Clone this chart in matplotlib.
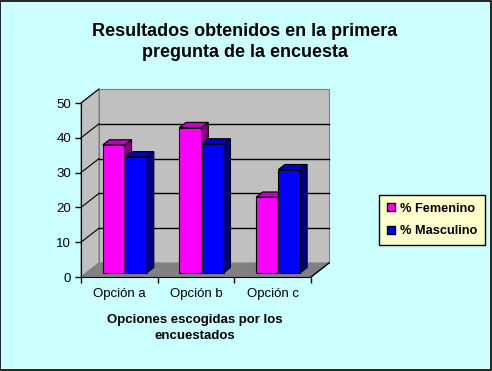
import matplotlib.pyplot as plt
from matplotlib.patches import Polygon, Patch, Rectangle

categories = ['Opción a', 'Opción b', 'Opción c']
femenino = [36.7, 41.7, 21.7]
masculino = [33.3, 37.0, 29.6]
series = ['% Femenino', '% Masculino']
yticks = [0, 10, 20, 30, 40, 50]

# colours: front, top, side
pink = ('#FF00FF', '#C000C0', '#800080')
blue = ('#0000FF', '#0000C0', '#000080')

plt.rcParams['font.family'] = ['Liberation Sans', 'DejaVu Sans']

W, H, DPI = 492, 371, 100
fig = plt.figure(figsize=(W / DPI, H / DPI), dpi=DPI, facecolor='#CCFFFF')
fig.patches.append(Rectangle((0.001, 0.002), 0.997, 0.996, transform=fig.transFigure,
                             fill=False, edgecolor='black', linewidth=1.2))

# front plane of the 3d box, in pixels
x0px, x1px, y0px, y1px = 81, 311, 277, 103
ax = fig.add_axes([x0px / W, 1 - y0px / H, (x1px - x0px) / W, (y0px - y1px) / H])
ax.set_xlim(0, 3)
ax.set_ylim(0, 50)
ax.patch.set_alpha(0)

# full depth of the box in data units
DX = 18 / ((x1px - x0px) / 3)
DY = 14 / ((y0px - y1px) / 50)


def p(x, y, f):
    return (x + f * DX, y + f * DY)


def poly(pts, fc, ec, lw=0.8, z=1):
    ax.add_patch(Polygon(pts, closed=True, facecolor=fc, edgecolor=ec,
                         linewidth=lw, clip_on=False, zorder=z))


ymax = yticks[-1]
n = len(categories)
# walls and floor
poly([p(0, 0, 1), p(n, 0, 1), p(n, ymax, 1), p(0, ymax, 1)], '#C0C0C0', '#808080')
poly([p(0, 0, 0), p(0, ymax, 0), p(0, ymax, 1), p(0, 0, 1)], '#C0C0C0', '#808080')
poly([p(0, 0, 0), p(n, 0, 0), p(n, 0, 1), p(0, 0, 1)], '#808080', '#808080')
ax.plot([n, n + DX], [0, DY], color='black', lw=1, clip_on=False, zorder=2)
for v in yticks[1:-1]:
    ax.plot([DX, n + DX], [v + DY, v + DY], color='black', lw=1, clip_on=False, zorder=2)
for v in yticks[1:]:
    ax.plot([0, DX], [v, v + DY], color='black', lw=0.8, clip_on=False, zorder=2)

# bars
bw = 0.29
f0, f1 = 0.31, 0.68
for i in range(n):
    for j, (vals, col) in enumerate([(femenino, pink), (masculino, blue)]):
        v = vals[i]
        a = i + 0.5 - bw + j * bw
        b = a + bw
        poly([p(a, 0, f0), p(b, 0, f0), p(b, v, f0), p(a, v, f0)], col[0], 'black', z=3)
        poly([p(a, v, f0), p(b, v, f0), p(b, v, f1), p(a, v, f1)], col[1], 'black', z=3)
        poly([p(b, 0, f0), p(b, 0, f1), p(b, v, f1), p(b, v, f0)], col[2], 'black', z=3)

# axes
for s in ['top', 'right']:
    ax.spines[s].set_visible(False)
ax.spines['left'].set_zorder(4)
ax.spines['bottom'].set_zorder(4)
ax.set_yticks(yticks)
ax.set_yticklabels([str(v) for v in yticks], fontsize=9.5)
ax.tick_params(axis='y', length=4, width=1, pad=3)
ax.set_xticks([i + 0.5 for i in range(n)])
ax.set_xticklabels(categories, fontsize=9.5)
ax.set_xticks(range(n + 1), minor=True)
ax.tick_params(axis='x', which='major', length=0, pad=8)
ax.tick_params(axis='x', which='minor', length=4, width=1)

fig.text(245 / W, 1 - 36 / H, 'Resultados obtenidos en la primera', ha='center',
         va='baseline', fontsize=13, fontweight='bold')
fig.text(245 / W, 1 - 57 / H, 'pregunta de la encuesta', ha='center',
         va='baseline', fontsize=13, fontweight='bold')
fig.text(195 / W, 1 - 322.5 / H, 'Opciones escogidas por los', ha='center',
         va='baseline', fontsize=9.5, fontweight='bold')
fig.text(195 / W, 1 - 339 / H, 'encuestados', ha='center',
         va='baseline', fontsize=9.5, fontweight='bold')

handles = [Patch(facecolor=pink[0], edgecolor='black'),
           Patch(facecolor=blue[0], edgecolor='black')]
leg = fig.legend(handles, series, loc='center', bbox_to_anchor=(432 / W, 1 - 220 / H),
                 prop={'weight': 'bold', 'size': 9.2}, frameon=True,
                 fancybox=False, shadow=False, handlelength=0.6, handleheight=0.6,
                 handletextpad=0.4, labelspacing=0.8, borderpad=0.6, borderaxespad=0)
leg.get_frame().set_facecolor('#FFFFCC')
leg.get_frame().set_edgecolor('black')
leg.get_frame().set_linewidth(1)
leg.get_frame().set_alpha(1)

fig.savefig('out.png', dpi=DPI, facecolor=fig.get_facecolor())
